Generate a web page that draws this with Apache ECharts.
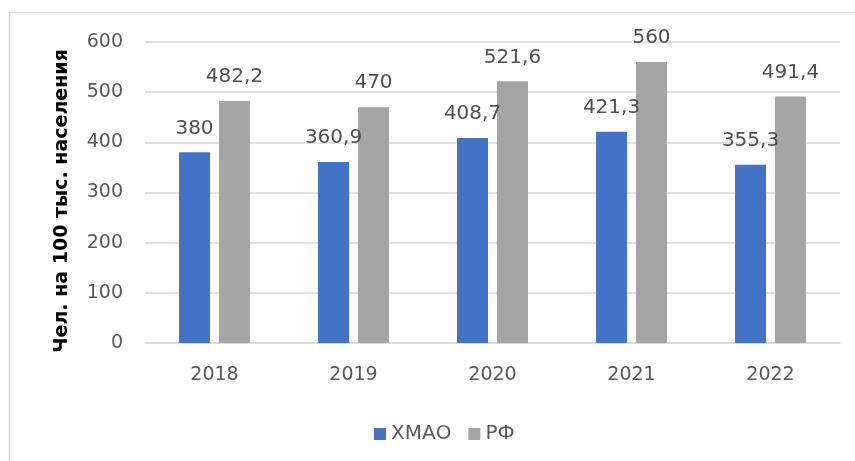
<!DOCTYPE html>
<html>
<head>
<meta charset="utf-8">
<script src="https://cdn.jsdelivr.net/npm/echarts@6/dist/echarts.min.js"></script>
<style>
html,body{margin:0;padding:0;background:#fff;}
#c{width:855px;height:461px;}
</style>
</head>
<body>
<div id="c"></div>
<script>
const categories = ['2018', '2019', '2020', '2021', '2022'];
const hmaoValues = [380, 360.9, 408.7, 421.3, 355.3];
const rfValues = [482.2, 470, 521.6, 560, 491.4];
const seriesNames = ['ХМАО', 'РФ'];
const yAxisTitle = 'Чел. на 100 тыс. населения';

const FONT = 'DejaVu Sans';
const fmt = p => String(p.value).replace('.', ',');

const chart = echarts.init(document.getElementById('c'), null, {renderer: 'canvas'});
chart.setOption({
  animation: false,
  backgroundColor: '#fff',
  graphic: [{
    type: 'rect', silent: true, z: 100,
    shape: {x: 9.5, y: 12.5, width: 900, height: 600},
    style: {fill: 'none', stroke: '#D9D9D9', lineWidth: 1.5}
  }, {
    type: 'text', silent: true,
    x: 62, y: 201, rotation: Math.PI / 2,
    style: {text: yAxisTitle, fill: '#000', font: 'bold 19px "DejaVu Sans"',
      align: 'center', verticalAlign: 'middle'}
  }],
  grid: {left: 145, right: 15, top: 42, bottom: 118, containLabel: false},
  legend: {
    data: seriesNames,
    left: 369, top: 419,
    itemWidth: 12, itemHeight: 12, itemGap: 17,
    icon: 'rect',
    textStyle: {color: '#595959', fontSize: 20, fontFamily: FONT}
  },
  xAxis: {
    type: 'category', data: categories,
    axisLine: {show: true, lineStyle: {color: '#D9D9D9', width: 1.5}},
    axisTick: {show: false},
    axisLabel: {color: '#595959', fontSize: 19, fontFamily: FONT, margin: 23}
  },
  yAxis: {
    type: 'value', min: 0, max: 600, interval: 100,
    axisLine: {show: false}, axisTick: {show: false},
    axisLabel: {color: '#595959', fontSize: 19, fontFamily: FONT, margin: 22},
    splitLine: {lineStyle: {color: '#D9D9D9', width: 1.5}}
  },
  series: [
    {
      name: seriesNames[0], type: 'bar', data: hmaoValues,
      barWidth: 31, barGap: '29%',
      itemStyle: {color: '#4472C4'},
      label: {show: true, position: 'top', distance: 14, formatter: fmt,
        color: '#505050', fontSize: 20, fontFamily: FONT}
    },
    {
      name: seriesNames[1], type: 'bar', data: rfValues,
      barWidth: 31, barGap: '29%',
      itemStyle: {color: '#A5A5A5'},
      label: {show: true, position: 'top', distance: 14, formatter: fmt,
        color: '#505050', fontSize: 20, fontFamily: FONT}
    }
  ]
});
</script>
</body>
</html>
